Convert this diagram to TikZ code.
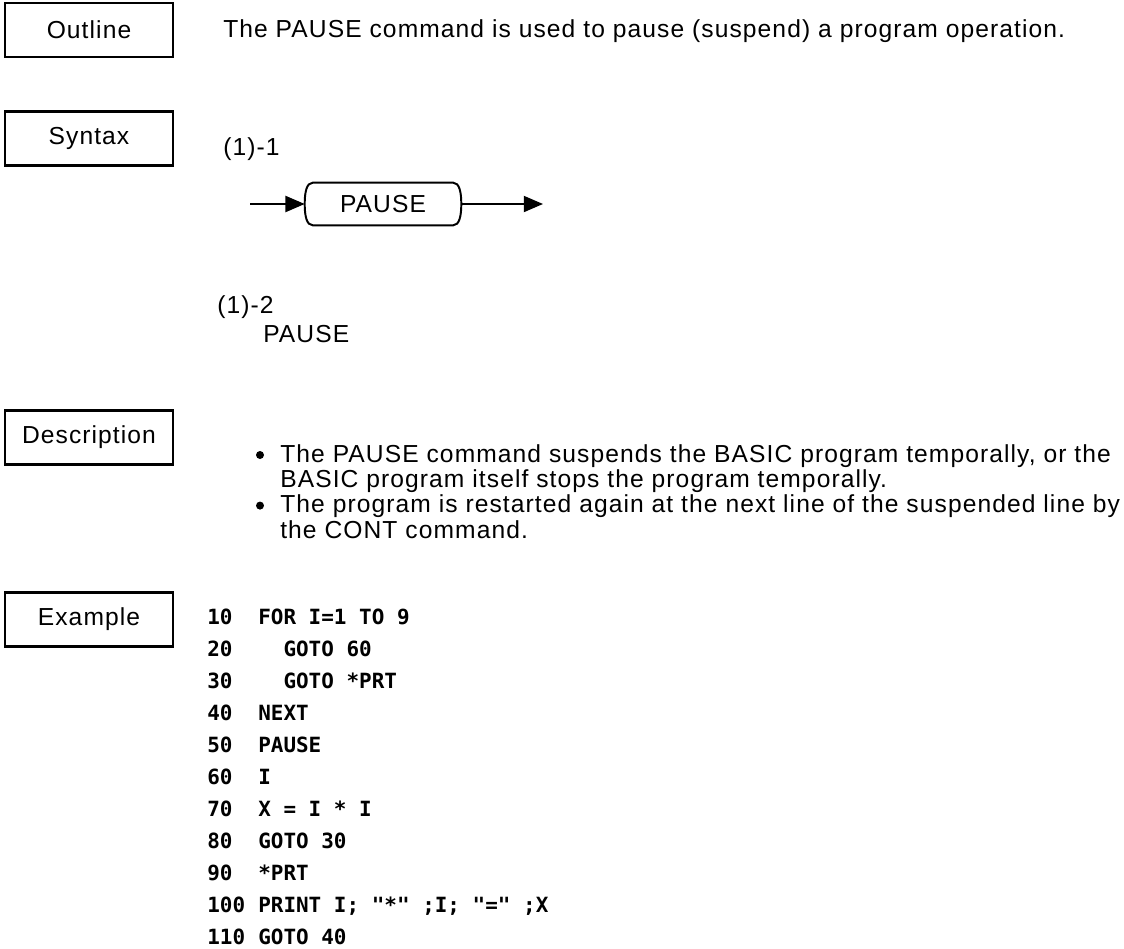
\documentclass[tikz,border=0pt]{standalone}
\usepackage{fontspec}
\setmainfont[LetterSpace=4.4]{Liberation Sans}
\setmonofont{DejaVu Sans Mono}
\usetikzlibrary{arrows.meta, positioning, calc}

\begin{document}
\begin{tikzpicture}[
    x=0.025cm, y=-0.025cm,
    font=\fontsize{17.5}{18}\selectfont,
    labelbox/.style={
        rectangle, draw=black, line width=2pt, inner sep=0pt,
        minimum width=4.2cm, minimum height=1.35cm
    },
    bodytext/.style={anchor=base west, inner sep=0pt},
    bulletmark/.style={circle, fill=black, inner sep=0pt, minimum size=0.2cm},
    codeline/.style={anchor=base west, inner sep=0pt,
        font=\fontsize{14.9}{16}\selectfont\ttfamily\bfseries},
    flow/.style={-{Triangle[length=0.48cm, width=0.4cm]}, line width=1.4pt}
]
\useasboundingbox (0,0) rectangle (1124,948);

% Section labels down the left side
\node[labelbox] (outline)     at (89,30)    {Outline};
\node[labelbox] (syntax)      at (89,138.5) {Syntax};
\node[labelbox] (description) at (89,437.5) {Description};
\node[labelbox] (example)     at (89,619.5) {Example};

% Outline
\node[bodytext] (outlinetext) at (223,37)
    {The PAUSE command is used to pause (suspend) a program operation.};

% Syntax (1)-1: railroad diagram
\node[bodytext] (syn1) at (223,155) {(1)-1};
\node[minimum width=3.9cm, minimum height=1.05cm, inner sep=0pt] (pause) at (383,204) {PAUSE};
\draw[line width=1.4pt]
    ($(pause.north west)+(8,0)$) -- ($(pause.north east)+(-8,0)$)
    .. controls +(6,0) and +(0,-12) .. (pause.east)
    .. controls +(0,12) and +(6,0) .. ($(pause.south east)+(-8,0)$)
    -- ($(pause.south west)+(8,0)$)
    .. controls +(-6,0) and +(0,12) .. (pause.west)
    .. controls +(0,-12) and +(-6,0) .. cycle;
\coordinate (syn in)  at (250,204);
\coordinate (syn out) at (543,204);
\draw[flow] (syn in) -- (pause.west);
\draw[flow] (pause.east) -- (syn out);

% Syntax (1)-2
\node[bodytext] (syn2)  at (217,313) {(1)-2};
\node[bodytext] (syn2b) at (263,342) {PAUSE};

% Description
\node[bulletmark] (bullet1) at (260,455) {};
\node[bodytext] (desc1) at (280,462)
    {The PAUSE command suspends the BASIC program temporally, or the};
\node[bodytext] (desc2) at (280,487.3)
    {BASIC program itself stops the program temporally.};
\node[bulletmark] (bullet2) at (260,505.6) {};
\node[bodytext] (desc3) at (280,512.6)
    {The program is restarted again at the next line of the suspended line by};
\node[bodytext] (desc4) at (280,538)
    {the CONT command.};

% Example listing
\foreach \num/\code [count=\i from 0] in {
    10/FOR I=1 TO 9,
    20/\ \ GOTO 60,
    30/\ \ GOTO *PRT,
    40/NEXT,
    50/PAUSE,
    60/I,
    70/X = I * I,
    80/GOTO 30,
    90/*PRT,
    100/PRINT I; "*" ;I; "=" ;X,
    110/GOTO 40}{
    \node[codeline] (num\i)  at (207,624+32*\i) {\num};
    \node[codeline] (code\i) at (258,624+32*\i) {\code};
}

\end{tikzpicture}
\end{document}
